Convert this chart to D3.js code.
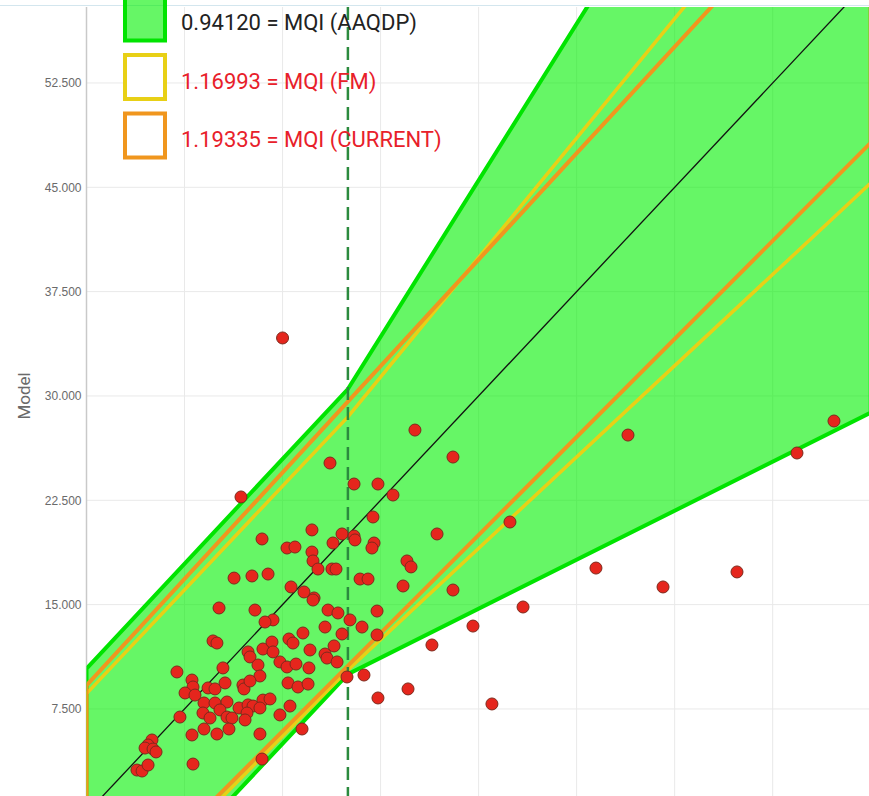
<!DOCTYPE html>
<html lang="en">
<head>
    <meta charset="UTF-8">
    <title>MQI target plot</title>
    <script src="https://d3js.org/d3.v7.min.js"></script>
    <style>
        body {
            margin: 0;
            padding: 0;
            background: white;
            font-family: Roboto, 'Noto Sans', sans-serif;
        }
        .tick text {
            font-size: 12px;
            fill: #6a6a6a;
        }
        .grid line {
            stroke: #e9e9e9;
            stroke-width: 1;
        }
        .legend-text {
            font-size: 22px;
        }
    </style>
</head>
<body>
<script>
    // tick values (both axes use 7.5 steps)
    var xTicks = [7.5, 15, 22.5, 30, 37.5, 45, 52.5];
    var yTicks = [7.5, 15, 22.5, 30, 37.5, 45, 52.5];

    // band outlines, [observed, model]
    var aaqdpUpper = [[0, 10.4], [20, 30.5], [60, 90.5]];
    var aaqdpLower = [[0, -10], [20, 10], [60, 28.8]];
    var fmUpper = [[0, 8.6], [20, 28.5], [60, 74.3]];
    var fmLower = [[0, -8.7], [20, 10.3], [60, 45.3]];
    var currentUpper = [[0, 9.2], [20, 29.6], [60, 70.4]];
    var currentLower = [[0, -8.2], [60, 48.2]];

    var thresholdX = 20;

    var legendLabels = ["0.94120 = MQI (AAQDP)", "1.16993 = MQI (FM)", "1.19335 = MQI (CURRENT)"];

    // scatter points
    var obs = [15.0, 11.82, 25.13, 18.63, 28.04, 41.43, 54.36, 57.19, 32.40, 38.98,
        44.11, 49.77, 33.40, 29.57, 26.43, 24.60, 22.30, 31.02, 21.23, 28.04,
        26.82, 24.22, 24.52, 24.83, 22.23, 22.23, 20.47, 22.30, 23.45, 21.92,
        22.00, 21.84, 19.55, 20.47, 20.54, 18.86, 17.25, 13.43, 15.34, 15.95,
        17.25, 17.33, 17.71, 18.78, 19.09, 20.93, 21.54, 13.89, 12.66, 11.29,
        15.65, 16.64, 17.41, 18.48, 19.24, 20.16, 21.08, 18.25, 19.55, 14.27,
        13.66, 10.14, 12.89, 15.49, 15.80, 16.56, 17.33, 9.68, 9.98, 13.50,
        14.19, 14.27, 12.36, 12.51, 17.10, 18.25, 18.40, 18.94, 6.92, 10.44,
        13.12, 13.27, 14.80, 15.34, 16.03, 17.02, 19.17, 8.07, 8.15, 7.54,
        8.30, 9.30, 9.83, 10.60, 11.97, 12.05, 12.51, 15.42, 16.18, 16.95,
        19.93, 8.99, 9.83, 10.75, 11.67, 12.36, 12.74, 13.50, 7.15, 8.91,
        10.21, 10.75, 11.13, 9.45, 13.27, 14.04, 14.80, 15.57, 12.28, 12.13,
        16.49, 8.07, 8.99, 9.98, 10.90, 13.27, 5.01, 4.71, 4.48, 5.09,
        5.32, 8.15, 13.43, 3.86, 4.25, 4.71];
    var model = [34.17, 22.74, 27.55, 25.18, 25.61, 27.19, 25.90, 28.20, 20.94, 17.63,
        16.27, 17.35, 14.83, 13.46, 12.10, 8.94, 8.29, 7.86, 9.94, 16.05,
        20.08, 16.34, 18.14, 17.71, 14.54, 12.82, 23.67, 23.67, 22.88, 21.30,
        19.43, 19.07, 20.08, 19.93, 19.65, 19.43, 20.37, 19.72, 19.07, 19.14,
        18.78, 18.14, 17.56, 17.56, 17.56, 16.84, 16.84, 17.20, 17.06, 16.91,
        16.27, 15.91, 15.48, 14.61, 14.40, 13.90, 13.39, 13.39, 12.89, 13.90,
        13.75, 14.76, 14.61, 12.53, 12.24, 12.96, 15.33, 12.39, 12.24, 11.81,
        12.31, 11.60, 11.60, 11.24, 11.74, 11.45, 11.16, 12.03, 10.16, 10.45,
        10.66, 9.87, 10.88, 10.52, 10.73, 10.45, 10.88, 9.58, 9.08, 8.65,
        8.50, 9.01, 8.94, 9.37, 9.22, 8.94, 9.51, 9.37, 9.08, 9.29,
        9.80, 7.93, 7.93, 8.00, 7.57, 7.79, 7.71, 8.14, 6.92, 7.21,
        7.43, 6.92, 6.85, 6.85, 7.57, 8.22, 7.07, 7.71, 7.21, 6.71,
        6.06, 5.63, 6.06, 5.70, 6.06, 5.70, 5.27, 4.91, 4.69, 4.62,
        4.41, 3.54, 3.90, 3.11, 3.04, 3.47];

    var points = obs.map(function(d, i) { return {x: d, y: model[i]}; });

    var width = 869, height = 796;
    var plotLeft = 86.5, plotTop = 7, plotRight = 869, plotBottom = 796;

    var x = d3.scaleLinear().domain([0, 60]).range([plotLeft, plotLeft + 60 * 13.07]);
    var y = d3.scaleLinear().domain([0, 60]).range([813.3, 813.3 - 60 * 13.911]);

    var svg = d3.select("body").append("svg")
        .attr("width", width)
        .attr("height", height);

    svg.append("defs").append("clipPath")
        .attr("id", "plot-clip")
        .append("rect")
        .attr("x", plotLeft)
        .attr("y", plotTop)
        .attr("width", plotRight - plotLeft)
        .attr("height", plotBottom - plotTop);

    // thin frame line at the very top
    svg.append("line")
        .attr("x1", 0).attr("x2", width)
        .attr("y1", 5.5).attr("y2", 5.5)
        .attr("stroke", "#d3e6ee")
        .attr("stroke-width", 1);

    // grid
    var grid = svg.append("g").attr("class", "grid");
    grid.selectAll("line.h")
        .data(yTicks)
        .enter().append("line")
        .attr("class", "h")
        .attr("x1", plotLeft).attr("x2", plotRight)
        .attr("y1", function(d) { return y(d); })
        .attr("y2", function(d) { return y(d); });
    grid.selectAll("line.v")
        .data(xTicks)
        .enter().append("line")
        .attr("class", "v")
        .attr("x1", function(d) { return x(d); })
        .attr("x2", function(d) { return x(d); })
        .attr("y1", plotTop).attr("y2", plotBottom);

    // y axis
    var yAxis = d3.axisLeft(y)
        .tickValues(yTicks)
        .tickFormat(d3.format(".3f"))
        .tickSize(0)
        .tickPadding(5);

    var yAxisG = svg.append("g")
        .attr("transform", "translate(" + plotLeft + ",0)")
        .call(yAxis);
    yAxisG.select(".domain").remove();

    svg.append("line")
        .attr("x1", plotLeft).attr("x2", plotLeft)
        .attr("y1", plotTop).attr("y2", plotBottom)
        .attr("stroke", "#c9c9c9")
        .attr("stroke-width", 1.5);

    svg.append("text")
        .attr("transform", "translate(30," + y(30) + ") rotate(-90)")
        .attr("text-anchor", "middle")
        .attr("font-size", 17)
        .attr("fill", "#6a6a6a")
        .text("Model");

    var plot = svg.append("g").attr("clip-path", "url(#plot-clip)");

    var line = d3.line()
        .x(function(d) { return x(d[0]); })
        .y(function(d) { return y(d[1]); });

    function bandPath(upper, lower) {
        return line(upper.concat(lower.slice().reverse())) + "Z";
    }

    plot.append("path")
        .attr("d", bandPath(aaqdpUpper, aaqdpLower))
        .attr("fill", "#00f000")
        .attr("fill-opacity", 0.6)
        .attr("stroke", "#00e400")
        .attr("stroke-width", 4)
        .attr("stroke-linejoin", "miter");

    plot.append("path")
        .attr("d", bandPath(fmUpper, fmLower))
        .attr("fill", "none")
        .attr("stroke", "#e8d016")
        .attr("stroke-width", 3.5);

    plot.append("path")
        .attr("d", bandPath(currentUpper, currentLower))
        .attr("fill", "none")
        .attr("stroke", "#f0961e")
        .attr("stroke-width", 4);

    // 1:1 line
    plot.append("path")
        .attr("d", line([[0, 0], [60, 60]]))
        .attr("stroke", "#111")
        .attr("stroke-width", 1.3)
        .attr("fill", "none");

    // threshold
    plot.append("line")
        .attr("x1", x(thresholdX)).attr("x2", x(thresholdX))
        .attr("y1", plotTop).attr("y2", plotBottom)
        .attr("stroke", "#2b8a3e")
        .attr("stroke-width", 2.5)
        .attr("stroke-dasharray", "13,7");

    plot.append("g")
        .selectAll("circle")
        .data(points)
        .enter().append("circle")
        .attr("cx", function(d) { return x(d.x); })
        .attr("cy", function(d) { return y(d.y); })
        .attr("r", 6)
        .attr("fill", "#e5261d")
        .attr("stroke", "#7d2a1c")
        .attr("stroke-width", 1);

    // legend
    var legend = svg.append("g").attr("transform", "translate(125,-3.5)");
    var legendStyles = [
        {fill: "#00f000", opacity: 0.6, stroke: "#00e400", text: "#222"},
        {fill: "#fff", opacity: 1, stroke: "#e8d016", text: "#e8202a"},
        {fill: "#fff", opacity: 1, stroke: "#f0961e", text: "#e8202a"}
    ];
    var item = legend.selectAll("g")
        .data(legendLabels)
        .enter().append("g")
        .attr("transform", function(d, i) { return "translate(0," + (i * 58.5) + ")"; });
    item.append("rect")
        .attr("width", 40).attr("height", 44)
        .attr("fill", function(d, i) { return legendStyles[i].fill; })
        .attr("fill-opacity", function(d, i) { return legendStyles[i].opacity; })
        .attr("stroke", function(d, i) { return legendStyles[i].stroke; })
        .attr("stroke-width", 4);
    item.append("text")
        .attr("class", "legend-text")
        .attr("x", 56)
        .attr("y", 33.5)
        .attr("fill", function(d, i) { return legendStyles[i].text; })
        .text(function(d) { return d; });
</script>
</body>
</html>
